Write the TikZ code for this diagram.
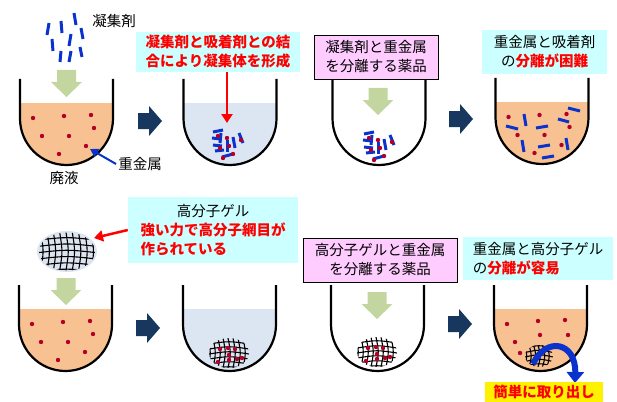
\documentclass[tikz,border=0pt]{standalone}
\usepackage{fontspec}
\setmainfont{Noto Sans CJK JP}
\usetikzlibrary{arrows.meta}

\definecolor{waste}{RGB}{248,193,146}
\definecolor{clearliq}{RGB}{220,230,242}
\definecolor{notebg}{RGB}{204,255,255}
\definecolor{drugbg}{RGB}{255,204,255}
\definecolor{downgreen}{RGB}{196,214,160}
\definecolor{stepnavy}{RGB}{23,55,94}
\definecolor{stickblue}{RGB}{10,50,205}
\definecolor{metalred}{RGB}{180,0,40}
\definecolor{gelbg}{RGB}{220,228,240}

\tikzset{
  vessel/.style={black, line width=2.2pt},
  stick/.style={stickblue, line width=3pt},
  netline/.style={black, line width=1.1pt},
  note/.style={inner sep=2pt, font=\fontsize{14.5}{19}\selectfont},
  notebox/.style={note, fill=notebg, align=center},
  drugbox/.style={notebox, fill=drugbg, draw=black, line width=0.8pt},
  alert/.style={text=red, font=\fontsize{14.5}{19}\selectfont\bfseries},
  redpoint/.style={red, line width=2.5pt, -{Triangle[length=9pt,width=11pt]}},
  bluepoint/.style={stickblue, line width=2pt, -{Triangle[length=8pt,width=9pt]}},
}

% beaker: centre x, rim y, liquid colour
\newcommand{\beaker}[3]{
  \fill[#3] (#1-46.5,#2+24) -- (#1-46.5,#2+39.5)
    arc[start angle=180, end angle=0, radius=46.5] -- (#1+46.5,#2+24) -- cycle;
  \draw[vessel] (#1-46.5,#2) -- (#1-46.5,#2+39.5)
    arc[start angle=180, end angle=0, radius=46.5] -- (#1+46.5,#2);
}
% heavy metal ions spread in the liquid
\newcommand{\metals}[2]{
  \foreach \dx/\dy in {-33.5/39, -2.5/37, 24.5/36, 27.5/49, -24.5/57, 2.5/57, 19.5/67, -7.5/75}
    \fill[metalred] (#1+\dx,#2+\dy) circle (2.2pt);
}
% flocculated lump of agent and metal
\newcommand{\floc}[2]{
  \foreach \ax/\ay/\bx/\by in {-10/-11/0/-13, -11/-5/-2/-4, -10/2/-1/3, -8/8/1/7,
      4/-3/4/9, 10/-6/12/5, 16/-10/20/0, -1/14/10/11, -2/-10/-3/0}
    \draw[stick] (#1+\ax,#2+\ay) -- (#1+\bx,#2+\by);
  \foreach \dx/\dy in {-5/-7, 4/-5, 18/-3, -3/5, 6/3, 0/15, 10/11}
    \fill[metalred] (#1+\dx,#2+\dy) circle (2.2pt);
}
% polymer gel network: centre, radii, mesh step
\newcommand{\gelnet}[5]{
  \begin{scope}
    \clip (#1,#2) ellipse [x radius=#3, y radius=#4];
    \foreach \k in {-6,...,6} {
      \draw[netline] (#1+\k*#5-1,#2-#4) .. controls (#1+\k*#5+2,#2) .. (#1+\k*#5-1,#2+#4);
      \draw[netline] (#1-#3,#2+\k*#5+1) .. controls (#1,#2+\k*#5-2) .. (#1+#3,#2+\k*#5+1);
    }
  \end{scope}
}
\newcommand{\gelmetals}[2]{
  \foreach \dx/\dy in {-9/-4, -1/-5, 6/-4, 0/2, 0/7, 8/6, 13/5, -11/9}
    \fill[metalred] (#1+\dx,#2+\dy) circle (2.2pt);
}
% block arrows
\newcommand{\stepnext}[2]{
  \fill[stepnavy] (#1,#2-8) -- (#1+11,#2-8) -- (#1+11,#2-15) -- (#1+24,#2)
    -- (#1+11,#2+15) -- (#1+11,#2+8) -- (#1,#2+8) -- cycle;
}
\newcommand{\pourdown}[2]{
  \fill[downgreen] (#1-9.5,#2) -- (#1+9.5,#2) -- (#1+9.5,#2+12) -- (#1+15.5,#2+12)
    -- (#1,#2+27) -- (#1-15.5,#2+12) -- (#1-9.5,#2+12) -- cycle;
}

\begin{document}
\begin{tikzpicture}[x=1pt, y=-1pt]
  \useasboundingbox (0,0) rectangle (617,401);

  %% --- flocculant route -------------------------------------------
  \foreach \ax/\ay/\bx/\by in {49/23/47/35, 61/21/62/33, 74/13/76/25, 71/34/69/46,
      81/28/83/39, 52/39/53/51, 61/51/60/62, 71/51/69/62, 80/47/82/57}
    \draw[stick] (\ax,\ay) -- (\bx,\by);
  \node[note] (agent) at (114,21) {凝集剤};
  \pourdown{66.5}{70}

  \beaker{66.5}{79}{waste}
  \metals{66.5}{79}
  \node[note] (waste) at (64,178) {廃液};
  \node[note] (metallabel) at (140,164) {重金属};
  \coordinate (ion) at (90,149);
  \draw[bluepoint] (metallabel.west) -- (ion);

  \stepnext{138}{121}

  \beaker{230}{79}{clearliq}
  \floc{223}{143}
  \node[notebox, alert, minimum width=164, minimum height=40] (bond) at (218,52)
    {凝集剤と吸着剤との結\\合により凝集体を形成};
  \coordinate (flocA) at (227,123);
  \draw[redpoint] (bond.south -| flocA) -- (flocA);

  \beaker{379}{79}{white}
  \floc{374}{145}
  \pourdown{378}{88}
  \node[drugbox, minimum width=124, minimum height=44] (drugA) at (376,57)
    {凝集剤と重金属\\を分離する薬品};

  \stepnext{449}{119}

  \beaker{542}{78}{waste}
  \metals{542}{78}
  \foreach \ax/\ay/\bx/\by in {506/126/518/129, 524/114/526/126, 536/128/548/126,
      558/119/569/122, 568/108/580/111, 522/140/524/152, 538/147/550/145,
      566/138/568/150, 542/158/554/156}
    \draw[stick] (\ax,\ay) -- (\bx,\by);
  \node[notebox, minimum width=125, minimum height=44] (hardsep) at (544.5,52)
    {重金属と吸着剤\\の{\color{red}\bfseries 分離が困難}};

  %% --- polymer gel route ------------------------------------------
  \fill[gelbg] (67,251.5) ellipse [x radius=30, y radius=20.5];
  \gelnet{67}{251.5}{28}{19}{6.3}
  \coordinate (gelblob) at (94,238);
  \node[notebox, align=left, minimum width=170, minimum height=66] (gelnote) at (213,230)
    {\makebox[145pt]{高分子ゲル}\\{\color{red}\bfseries 強い力で高分子網目が}\\{\color{red}\bfseries 作られている}};
  \draw[redpoint] (gelnote.west) -- (gelblob);
  \pourdown{66}{278}

  \beaker{65.5}{285}{waste}
  \metals{65.5}{285}

  \stepnext{136}{328}

  \beaker{229.5}{285}{clearliq}
  \gelnet{229}{353}{20}{15}{5}
  \gelmetals{229}{353}

  \beaker{377.5}{285}{white}
  \gelnet{377}{352}{20}{15}{5}
  \gelmetals{377}{352}
  \pourdown{377}{292}
  \node[drugbox, minimum width=154, minimum height=44] (drugB) at (380,260)
    {高分子ゲルと重金属\\を分離する薬品};

  \stepnext{448}{324}

  \beaker{540.5}{285}{waste}
  \foreach \dx/\dy in {507/324, 538/321, 565/320, 540/335, 568/335, 515/342, 520/353, 567/351}
    \fill[metalred] (\dx,\dy) circle (2.2pt);
  \gelnet{539}{356}{14}{11}{4.5}
  \node[notebox, align=left, minimum width=150, minimum height=43] (easysep) at (538,258.5)
    {重金属と高分子ゲル\\の{\color{red}\bfseries 分離が容易}};
  \coordinate (gelout) at (533,364);
  \coordinate (drop) at (575,383);
  \draw[stickblue, line width=6pt, -{Triangle[length=11pt,width=17pt]}]
    (gelout) .. controls (546,336) and (576,342) .. (drop);
  \node[note, alert, fill=yellow, minimum width=118, minimum height=20] (takeout) at (544,392)
    {簡単に取り出し};
\end{tikzpicture}
\end{document}
